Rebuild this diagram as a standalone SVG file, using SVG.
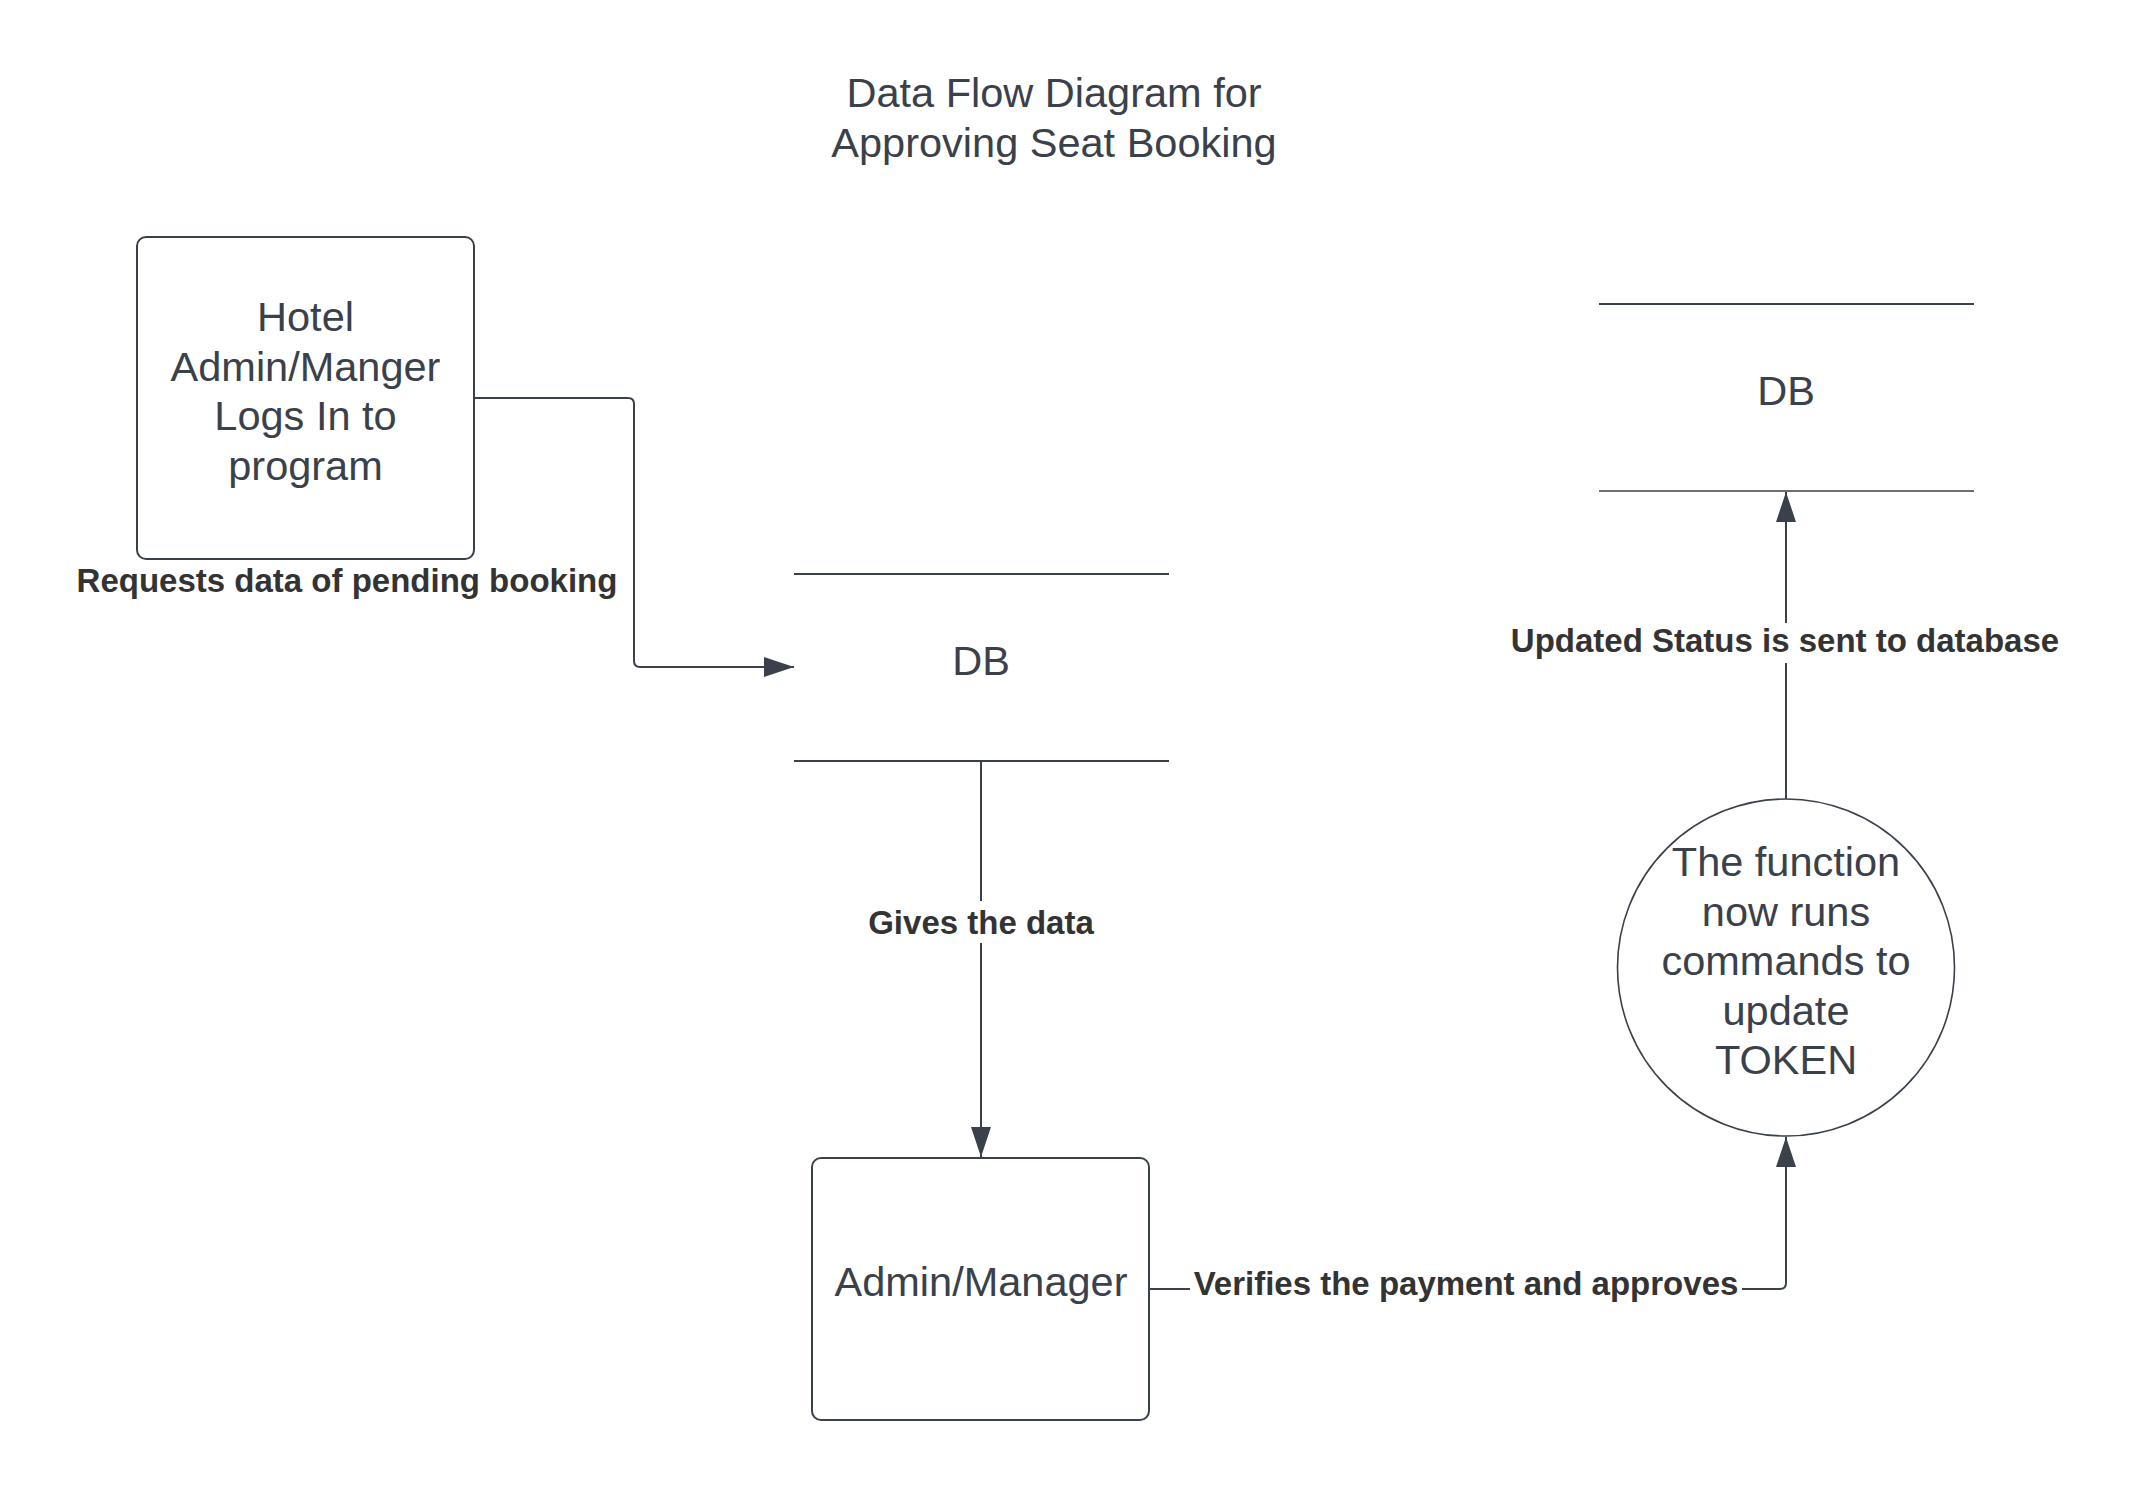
<svg xmlns="http://www.w3.org/2000/svg" width="2138" height="1496" viewBox="0 0 2138 1496">
  <style>
    .shape { fill: #ffffff; stroke: #3a414a; stroke-width: 2; }
    .txt { font-family: "Liberation Sans", Arial, sans-serif; font-size: 41.5px; fill: #3a414a; text-anchor: middle; }
    .lbl { font-family: "Liberation Sans", Arial, sans-serif; font-size: 33px; font-weight: bold; fill: #333333; text-anchor: middle; }
    .conn { fill: none; stroke: #3a414a; stroke-width: 2; }
    .dbline { stroke: #3a414a; stroke-width: 2; }
    .lblbg { fill: #ffffff; }
  </style>
  <defs>
    <marker id="arrow" markerUnits="userSpaceOnUse" markerWidth="30" markerHeight="20" refX="30" refY="10" orient="auto" viewBox="0 0 30 20">
      <path d="M0,0 L30,10 L0,20 z" fill="#3a414a"/>
    </marker>
  </defs>
  <rect x="0" y="0" width="2138" height="1496" fill="#ffffff"/>

  <g id="title">
    <text class="txt" x="1054" y="107">Data Flow Diagram for</text>
    <text class="txt" x="1054" y="157">Approving Seat Booking</text>
  </g>

  <g id="connectors">
    <path class="conn" d="M474,398 H628 Q634,398 634,404 V661 Q634,667 640,667 H794" marker-end="url(#arrow)"/>
    <path class="conn" d="M981,762 V1157" marker-end="url(#arrow)"/>
    <path class="conn" d="M1149,1289 H1780 Q1786,1289 1786,1283 V1137" marker-end="url(#arrow)"/>
    <path class="conn" d="M1786,799 V492" marker-end="url(#arrow)"/>
  </g>

  <g id="labels">
    <text class="lbl" x="347" y="592">Requests data of pending booking</text>
    <rect class="lblbg" x="865" y="901" width="232" height="42"/>
    <text class="lbl" x="981" y="934">Gives the data</text>
    <rect class="lblbg" x="1190" y="1267" width="552" height="42"/>
    <text class="lbl" x="1466" y="1295">Verifies the payment and approves</text>
    <rect class="lblbg" x="1508" y="623" width="556" height="40"/>
    <text class="lbl" x="1785" y="652">Updated Status is sent to database</text>
  </g>

  <g id="hotel-admin">
    <rect class="shape" x="137" y="237" width="337" height="322" rx="9" ry="9"/>
    <text class="txt" x="305.5" y="331">Hotel</text>
    <text class="txt" x="305.5" y="381">Admin/Manger</text>
    <text class="txt" x="305.5" y="430">Logs In to</text>
    <text class="txt" x="305.5" y="480">program</text>
  </g>

  <g id="db1">
    <line class="dbline" x1="794" y1="574" x2="1169" y2="574"/>
    <line class="dbline" x1="794" y1="761" x2="1169" y2="761"/>
    <text class="txt" x="981" y="675">DB</text>
  </g>

  <g id="admin-manager">
    <rect class="shape" x="812" y="1158" width="337" height="262" rx="9" ry="9"/>
    <text class="txt" x="981" y="1296">Admin/Manager</text>
  </g>

  <g id="process">
    <circle class="shape" cx="1786" cy="967.5" r="168.5" style="stroke-width:1.6"/>
    <text class="txt" x="1786" y="876">The function</text>
    <text class="txt" x="1786" y="926">now runs</text>
    <text class="txt" x="1786" y="975">commands to</text>
    <text class="txt" x="1786" y="1025">update</text>
    <text class="txt" x="1786" y="1074">TOKEN</text>
  </g>

  <g id="db2">
    <line class="dbline" x1="1599" y1="304" x2="1974" y2="304"/>
    <line class="dbline" x1="1599" y1="491" x2="1974" y2="491" style="stroke-width:1.3"/>
    <text class="txt" x="1786" y="405">DB</text>
  </g>
</svg>
